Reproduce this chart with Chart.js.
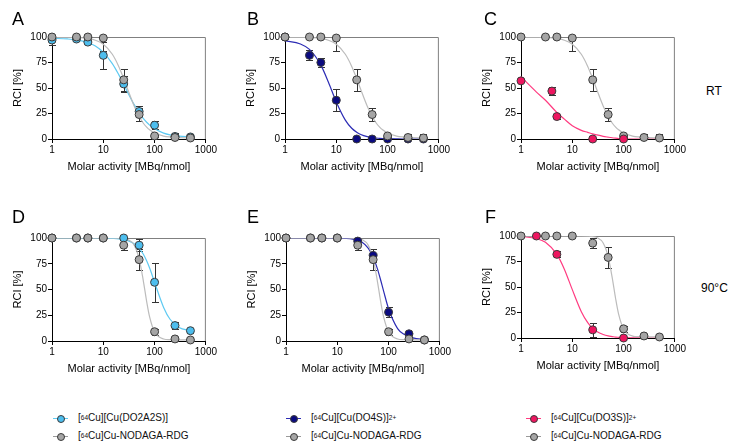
<!DOCTYPE html>
<html lang="en">
  <head>
    <meta charset="utf-8" />
    <title>RCI vs molar activity</title>
    <style>
      * {
        margin: 0;
        padding: 0;
      }
      body {
        width: 730px;
        height: 446px;
        background: #fff;
        position: relative;
        overflow: hidden;
        font-family: "Liberation Sans", Arial, sans-serif;
        color: #000;
      }
      canvas {
        position: absolute;
      }
      .letter {
        position: absolute;
        font-size: 18px;
        line-height: 18px;
      }
      .cond {
        position: absolute;
        font-size: 12px;
        line-height: 12px;
      }
      .leg {
        position: absolute;
        font-size: 10px;
        color: #111;
      }
      .leg .row {
        height: 18px;
        line-height: 18px;
        white-space: nowrap;
        display: flex;
        align-items: center;
      }
      .leg sup {
        font-size: 6.5px;
        vertical-align: 4px;
        line-height: 0;
      }
      .sym {
        position: relative;
        width: 15px;
        height: 18px;
        margin-right: 10px;
        flex: none;
      }
      .sym::before {
        content: "";
        position: absolute;
        left: 0;
        right: 0;
        top: 9px;
        height: 1px;
        background: var(--l);
      }
      .sym::after {
        content: "";
        position: absolute;
        left: 3.5px;
        top: 5.5px;
        width: 6px;
        height: 6px;
        border: 1px solid #3a3a3a;
        border-radius: 50%;
        background: var(--c);
      }
    </style>
  </head>
  <body>
    <canvas id="chartA" width="218" height="155" style="left:0px;top:25px"></canvas>
    <canvas id="chartB" width="218" height="155" style="left:233px;top:25px"></canvas>
    <canvas id="chartC" width="218" height="155" style="left:469px;top:25px"></canvas>
    <canvas id="chartD" width="218" height="156" style="left:0px;top:226px"></canvas>
    <canvas id="chartE" width="218" height="156" style="left:234px;top:226px"></canvas>
    <canvas id="chartF" width="218" height="155" style="left:469px;top:224px"></canvas>

    <div class="letter" style="left:12px;top:10px">A</div>
    <div class="letter" style="left:247px;top:10px">B</div>
    <div class="letter" style="left:484px;top:10px">C</div>
    <div class="letter" style="left:12px;top:208px">D</div>
    <div class="letter" style="left:247px;top:208px">E</div>
    <div class="letter" style="left:485px;top:208px">F</div>
    <div class="cond" style="left:706px;top:85px">RT</div>
    <div class="cond" style="left:701px;top:282px">90°C</div>

    <div class="leg" style="left:53px;top:409px">
      <div class="row"><span class="sym" style="--c:#4dbeee;--l:#5fcaf2"></span>[<sup>64</sup>Cu][Cu(DO2A2S)]</div>
      <div class="row"><span class="sym" style="--c:#a5a5a5;--l:#9a9a9a"></span>[<sup>64</sup>Cu]Cu-NODAGA-RDG</div>
    </div>
    <div class="leg" style="left:286px;top:409px">
      <div class="row"><span class="sym" style="--c:#0a0a80;--l:#2c2cb4"></span>[<sup>64</sup>Cu][Cu(DO4S)]<sup>2+</sup></div>
      <div class="row"><span class="sym" style="--c:#a5a5a5;--l:#9a9a9a"></span>[<sup>64</sup>Cu]Cu-NODAGA-RDG</div>
    </div>
    <div class="leg" style="left:526px;top:409px">
      <div class="row"><span class="sym" style="--c:#ee1660;--l:#ff3b80"></span>[<sup>64</sup>Cu][Cu(DO3S)]<sup>2+</sup></div>
      <div class="row"><span class="sym" style="--c:#a5a5a5;--l:#9a9a9a"></span>[<sup>64</sup>Cu]Cu-NODAGA-RDG</div>
    </div>

    <script src="https://cdn.jsdelivr.net/npm/chart.js"></script>
    <script>
      // data
      const doses = [1, 3, 5, 10, 25, 50, 100, 250, 500];
      const fitX = [1, 2, 3, 5, 7, 10, 15, 20, 25, 30, 40, 50, 60, 70, 80, 100, 150, 200, 300, 500];
      const xTicks = [1, 10, 100, 1000];
      const yTicks = [0, 25, 50, 75, 100];

      // RT
      const nodagaRT = [100, 100, 100, 99, 58, 24, 3, 1.5, 1];
      const nodagaRTErr = [0, 0, 0, 13, 11, 6, 1, 3, 4];
      const nodagaRTFit = [100, 99.8, 99.6, 98.6, 96.8, 92.9, 83.1, 71.2, 59.2, 48.5, 32.3, 22.1, 15.7, 11.7, 9.0, 5.8, 2.9, 2.0, 1.4, 1.1];

      const do2a2sRT = [97, 98, 95, 82, 54, 27, 13.5, 2.5, 2];
      const do2a2sRTErr = [5, 1, 2, 13, 8, 5, 4, 3, 2];
      const do2a2sRTFit = [98.7, 98.1, 97.2, 94.5, 91.1, 85, 73.9, 63.1, 53.6, 45.6, 33.7, 25.7, 20.2, 16.4, 13.6, 10, 5.8, 4.1, 2.8, 2.0];

      const do4sRT = [100, 82, 75, 38, 0, 0, 0, 0, 0];
      const do4sRTErr = [0, 5, 4, 11, 0, 0, 0, 0, 0];
      const do4sRTFit = [96.2, 93.2, 87.8, 72.4, 55.9, 36.3, 18.5, 10.5, 6.6, 4.4, 2.3, 1.4, 1.0, 0.7, 0.5, 0.3, 0.1, 0, 0, 0];

      const do3sRTDoses = [1, 4, 5, 25, 100];
      const do3sRT = [57, 47, 22, 0, 0];
      const do3sRTErr = [0, 4, 2, 0, 0];
      const do3sRTFit = [61, 46, 38, 26, 19.5, 13, 8.5, 6.5, 5, 4, 2.6, 1.8, 1.2, 0.8, 0.5, 0, 0, 0, 0, 0];

      // 90 °C
      const nodaga90 = [100, 100, 100, 100, 93, 79, 9, 2, 1];
      const nodaga90Err = [0, 0, 0, 0, 5, 10, 3, 1, 1];
      const nodaga90Fit = [100, 100, 100, 100, 100, 100, 100, 99.8, 99.4, 98.5, 93.1, 79.8, 59.2, 38.5, 23.4, 8.9, 1.9, 1.3, 1.1, 1];

      const do2a2s90 = [100, 100, 100, 100, 100, 93, 57, 15, 10];
      const do2a2s90Err = [0, 0, 0, 0, 0, 6, 19, 3, 2];
      const do2a2s90Fit = [100, 100, 100, 100, 100, 100, 99.6, 99.2, 98.5, 97.5, 94.4, 90, 84.4, 77.8, 70.8, 57, 32.6, 21.1, 13.2, 10];

      const do4s90 = [100, 100, 100, 100, 97, 83, 28, 7, 1];
      const do4s90Err = [0, 0, 0, 0, 0, 6, 5, 1, 0];
      const do4s90Fit = [100, 100, 100, 100, 100, 99.9, 99.6, 98.9, 97.7, 96, 90.2, 81.5, 70.7, 59.2, 48.4, 31.3, 12, 6.5, 3, 1.4];

      const do3s90Doses = [2, 5, 25, 100];
      const do3s90 = [100, 82, 8, 0];
      const do3s90Err = [0, 3, 7, 0];
      const do3s90Fit = [99.5, 97.5, 93.8, 82, 67.5, 47.4, 25.8, 15.1, 9.5, 6.4, 3.4, 2.0, 1.4, 0.9, 0.7, 0.4, 0.2, 0.1, 0, 0];

      const GREY = { fill: "#a5a5a5", line: "#bcbcbc" };
      const LIGHTBLUE = { fill: "#4dbeee", line: "#5fcaf2" };
      const NAVY = { fill: "#0a0a80", line: "#2c2cb4" };
      const PINK = { fill: "#ee1660", line: "#ff3b80" };

      Chart.defaults.font.family = '"Liberation Sans", Arial, sans-serif';
      Chart.defaults.color = "#000";

      // plugins
      const frameLines = {
        id: "frameLines",
        beforeDatasetsDraw(chart) {
          const { ctx, chartArea: a } = chart;
          ctx.save();
          ctx.strokeStyle = "#808080";
          ctx.lineWidth = 1;
          ctx.beginPath();
          ctx.moveTo(a.left, a.top + 0.5);
          ctx.lineTo(a.right - 0.5, a.top + 0.5);
          ctx.lineTo(a.right - 0.5, a.bottom);
          ctx.stroke();
          ctx.restore();
        }
      };

      const errorBars = {
        id: "errorBars",
        beforeDatasetsDraw(chart) {
          const { ctx, chartArea: a, scales: { x, y } } = chart;
          ctx.save();
          ctx.beginPath();
          ctx.rect(a.left - 6, a.top, a.width + 12, a.height);
          ctx.clip();
          ctx.strokeStyle = "#333";
          ctx.lineWidth = 1;
          ctx.beginPath();
          chart.data.datasets.forEach((ds) => {
            if (!ds.err) return;
            ds.data.forEach((p, i) => {
              const e = ds.err[i];
              if (!e) return;
              const px = Math.round(x.getPixelForValue(p.x)) + 0.5;
              const y1 = Math.round(y.getPixelForValue(p.y + e)) + 0.5;
              const y2 = Math.round(y.getPixelForValue(p.y - e)) + 0.5;
              ctx.moveTo(px, y1);
              ctx.lineTo(px, y2);
              ctx.moveTo(px - 3.5, y1);
              ctx.lineTo(px + 3.5, y1);
              ctx.moveTo(px - 3.5, y2);
              ctx.lineTo(px + 3.5, y2);
            });
          });
          ctx.stroke();
          ctx.restore();
        }
      };

      function points(xs, ys) {
        return xs.map((v, i) => ({ x: v, y: ys[i] }));
      }

      // each series: x values, y values, error, fit, colours, draw order
      function makePanel(id, series) {
        const datasets = [];
        series.forEach((s) => {
          datasets.push({
            data: points(s.x, s.y),
            err: s.err,
            backgroundColor: s.col.fill,
            borderColor: "#3a3a3a",
            borderWidth: 1,
            pointRadius: 4,
            pointHoverRadius: 4,
            order: s.order,
            clip: false
          });
          datasets.push({
            data: points(fitX, s.fit),
            showLine: true,
            pointRadius: 0,
            borderColor: s.col.line,
            borderWidth: 1.2,
            cubicInterpolationMode: "monotone",
            order: 10
          });
        });

        return new Chart(document.getElementById(id), {
          type: "scatter",
          data: { datasets },
          options: {
            responsive: false,
            animation: false,
            devicePixelRatio: 1,
            layout: { padding: { top: 12, right: 12, left: 0, bottom: 0 } },
            plugins: {
              legend: { display: false },
              tooltip: { enabled: false }
            },
            scales: {
              x: {
                type: "logarithmic",
                min: 1,
                max: 1000,
                afterBuildTicks: (axis) => {
                  axis.ticks = xTicks.map((v) => ({ value: v }));
                },
                afterFit: (axis) => {
                  axis.height = 41;
                },
                ticks: {
                  autoSkip: false,
                  maxRotation: 0,
                  padding: 1,
                  font: { size: 10 },
                  callback: (v) => String(v)
                },
                grid: { drawOnChartArea: false, tickLength: 4, color: "#000" },
                border: { color: "#000", width: 1 },
                title: {
                  display: true,
                  text: "Molar activity [MBq/nmol]",
                  font: { size: 11 },
                  padding: { top: 0, bottom: 6 }
                }
              },
              y: {
                min: 0,
                max: 100,
                afterBuildTicks: (axis) => {
                  axis.ticks = yTicks.map((v) => ({ value: v }));
                },
                afterFit: (axis) => {
                  axis.width = 52;
                },
                ticks: { padding: 1, font: { size: 10 } },
                grid: { drawOnChartArea: false, tickLength: 4, color: "#000" },
                border: { color: "#000", width: 1 },
                title: {
                  display: true,
                  text: "RCI [%]",
                  font: { size: 11 },
                  padding: { top: 11, bottom: 0 }
                }
              }
            }
          },
          plugins: [frameLines, errorBars]
        });
      }

      const grey = (y, err, fit) => ({ x: doses, y, err, fit, col: GREY, order: 1 });

      makePanel("chartA", [
        grey(nodagaRT, nodagaRTErr, nodagaRTFit),
        { x: doses, y: do2a2sRT, err: do2a2sRTErr, fit: do2a2sRTFit, col: LIGHTBLUE, order: 2 }
      ]);
      makePanel("chartB", [
        grey(nodagaRT, nodagaRTErr, nodagaRTFit),
        { x: doses, y: do4sRT, err: do4sRTErr, fit: do4sRTFit, col: NAVY, order: 2 }
      ]);
      makePanel("chartC", [
        grey(nodagaRT, nodagaRTErr, nodagaRTFit),
        { x: do3sRTDoses, y: do3sRT, err: do3sRTErr, fit: do3sRTFit, col: PINK, order: 0 }
      ]);
      makePanel("chartD", [
        grey(nodaga90, nodaga90Err, nodaga90Fit),
        { x: doses, y: do2a2s90, err: do2a2s90Err, fit: do2a2s90Fit, col: LIGHTBLUE, order: 2 }
      ]);
      makePanel("chartE", [
        grey(nodaga90, nodaga90Err, nodaga90Fit),
        { x: doses, y: do4s90, err: do4s90Err, fit: do4s90Fit, col: NAVY, order: 2 }
      ]);
      makePanel("chartF", [
        grey(nodaga90, nodaga90Err, nodaga90Fit),
        { x: do3s90Doses, y: do3s90, err: do3s90Err, fit: do3s90Fit, col: PINK, order: 0 }
      ]);
    </script>
  </body>
</html>
